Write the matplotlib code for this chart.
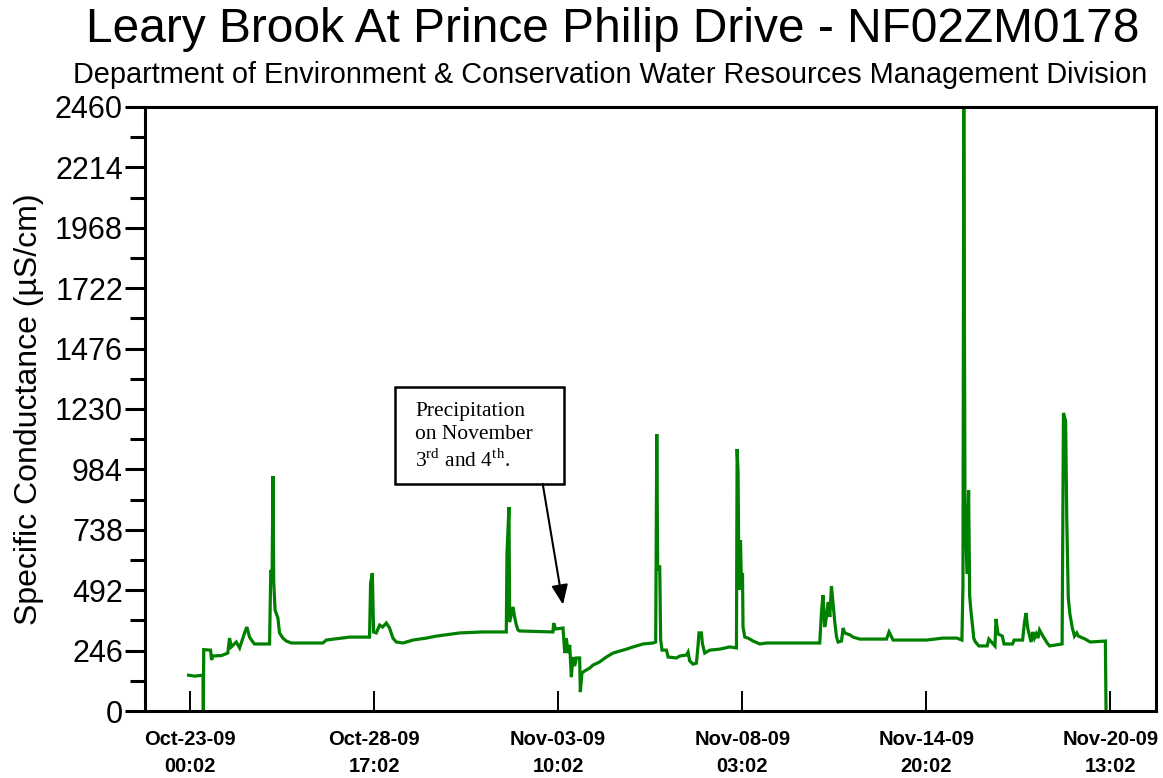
import numpy as np
import matplotlib
matplotlib.use("Agg")
import matplotlib.pyplot as plt
from matplotlib.patches import Rectangle

plt.rcParams['font.family'] = 'Liberation Sans'
plt.rcParams['mathtext.fontset'] = 'custom'
plt.rcParams['mathtext.rm'] = 'Liberation Serif'

# hours after Oct-23-09 00:02, specific conductance (uS/cm)
hours = [-1.1, 3.4, 9.7, 9.9, 10.2, 15.3, 16.0, 17.0, 23.5, 28.1, 29.4, 30.7, 34.4, 36.9,
         40.6, 42.3, 44.3, 46.8, 48.0, 59.2, 60.1, 61.1, 61.7, 62.3, 63.3, 65.4, 66.6,
         69.1, 71.6, 75.4, 98.9, 101.4, 118.8, 133.6, 134.4, 135.7, 136.6, 138.6, 141.1,
         143.3, 146.1, 148.5, 151.0, 153.5, 158.5, 165.9, 175.9, 183.3, 200.7, 218.0,
         235.4, 235.9, 237.4, 237.9, 240.4, 241.6, 242.9, 244.1, 245.3, 270.1, 270.7,
         272.1, 277.6, 278.9, 280.1, 281.3, 282.6, 283.8, 285.0, 286.3, 287.6, 290.0,
         290.5, 291.7, 293.7, 297.5, 299.9, 304.9, 309.9, 314.8, 319.8, 324.8, 329.7,
         337.2, 344.6, 346.6, 347.4, 348.1, 348.9, 349.6, 350.3, 351.3, 354.6, 355.8,
         362.0, 364.5, 369.5, 370.7, 371.9, 374.4, 376.9, 378.1, 378.8, 380.6, 381.4,
         383.1, 386.8, 394.3, 401.7, 406.7, 407.2, 407.9, 408.6, 409.7, 410.4, 411.2,
         411.6, 412.9, 415.3, 419.1, 424.1, 429.0, 468.7, 470.0, 471.1, 472.4, 473.7,
         474.9, 476.2, 477.4, 478.6, 479.9, 481.2, 482.4, 484.9, 486.1, 487.3, 491.1,
         493.5, 498.5, 518.4, 520.3, 523.3, 548.2, 560.5, 570.7, 574.5, 575.3, 575.9,
         576.8, 578.3, 579.5, 580.3, 581.3, 582.6, 583.3, 584.6, 587.1, 593.3, 594.6,
         599.1, 599.9, 601.4, 604.6, 605.9, 612.2, 613.4, 619.7, 621.0, 622.2, 623.5,
         626.0, 627.3, 628.5, 629.8, 631.1, 632.3, 634.8, 638.0, 639.8, 649.1, 650.1,
         651.7, 652.6, 653.7, 654.9, 656.7, 658.3, 660.0, 661.2, 666.3, 670.0, 681.3,
         681.8]
conductance = [146, 142, 146, 0, 250, 248, 208, 224, 226, 236, 297, 261, 281, 257,
               318, 342, 301, 281, 273, 273, 574, 560, 957, 525, 411, 379, 318,
               297, 285, 277, 277, 289, 301, 301, 521, 562, 322, 318, 350,
               342, 358, 338, 297, 281, 277, 289, 297, 305, 318, 322,
               322, 643, 831, 362, 424, 383, 350, 330, 326, 322, 358,
               334, 338, 236, 297, 236, 269, 138, 220, 183, 216, 216,
               77, 155, 163, 175, 187, 200, 220, 236, 244, 252, 261,
               273, 277, 281, 1128, 574, 587, 587, 289, 248, 248, 220,
               216, 224, 228, 240, 204, 191, 195, 265, 318, 318, 273,
               236, 248, 252, 261, 257, 1067, 973, 493, 696, 521, 562,
               342, 301, 297, 285, 273, 277, 277, 403, 472, 342, 383,
               444, 383, 509, 440, 362, 301, 281, 285, 338, 318, 310,
               301, 293, 293, 322, 289, 289, 297, 297, 289, 509, 2460,
               851, 558, 900, 468, 403, 338, 297, 281, 265, 265, 293,
               265, 375, 314, 305, 273, 273, 289, 289, 358, 399, 338,
               281, 322, 297, 314, 297, 330, 305, 277, 265, 273, 1214,
               1181, 770, 460, 395, 338, 305, 318, 305, 293, 281, 285,
               0]

tick_hours = [0, 137, 274, 411, 548, 685]
tick_labels = ["Oct-23-09\n00:02", "Oct-28-09\n17:02", "Nov-03-09\n10:02",
               "Nov-08-09\n03:02", "Nov-14-09\n20:02", "Nov-20-09\n13:02"]
y_ticks = np.arange(0, 2461, 246)

fig = plt.figure(figsize=(11.63, 7.78), dpi=100)
ax = fig.add_axes([0.1247, 0.0861, 0.8693, 0.7764])

ax.plot(hours, conductance, color="#008000", linewidth=2.3, solid_joinstyle="miter")

ax.set_xlim(-33.5, 719)
ax.set_ylim(0, 2460)

ax.set_xticks(tick_hours)
ax.set_xticklabels(tick_labels, fontweight="bold", fontsize=14.5, linespacing=1.5)
ax.set_yticks(y_ticks)
ax.set_yticklabels([str(v) for v in y_ticks], fontsize=22)
ax.set_yticks(y_ticks[:-1] + 123, minor=True)

ax.tick_params(axis="x", direction="in", length=14.4, width=1.4, pad=14, color="black")
ax.tick_params(axis="y", which="major", direction="out", length=14.4, width=2.2, pad=1.5)
ax.tick_params(axis="y", which="minor", direction="out", length=10.8, width=2.2)

for sp in ax.spines.values():
    sp.set_linewidth(2.2)

ax.set_ylabel("Specific Conductance (\u00b5S/cm)", fontsize=23)
ax.yaxis.set_label_coords(-0.100, 0.5)

fig.text(0.527, 0.962, "Leary Brook At Prince Philip Drive - NF02ZM0178",
         fontsize=34.5, ha="center", va="center")
fig.text(0.5245, 0.903, "Department of Environment & Conservation Water Resources Management Division",
         fontsize=20.8, ha="center", va="center")

# annotation box and arrow
ax.add_patch(Rectangle((152.2, 925), 126.0, 395, facecolor="white",
                       edgecolor="black", linewidth=1.8, zorder=4))
ax.text(167.5, 1258,
        "Precipitation\non November\n3$^{\\mathrm{rd}}$ and 4$^{\\mathrm{th}}$.",
        family="Liberation Serif", fontsize=15.5, va="top", ha="left",
        linespacing=1.3, zorder=5)
ax.annotate("", xy=(277.6, 433), xytext=(262.5, 925),
            arrowprops=dict(arrowstyle="-|>,head_length=1.2,head_width=0.5",
                            color="black", linewidth=1.5, shrinkA=0, shrinkB=0),
            zorder=5)

fig.savefig("out.png", dpi=100)
